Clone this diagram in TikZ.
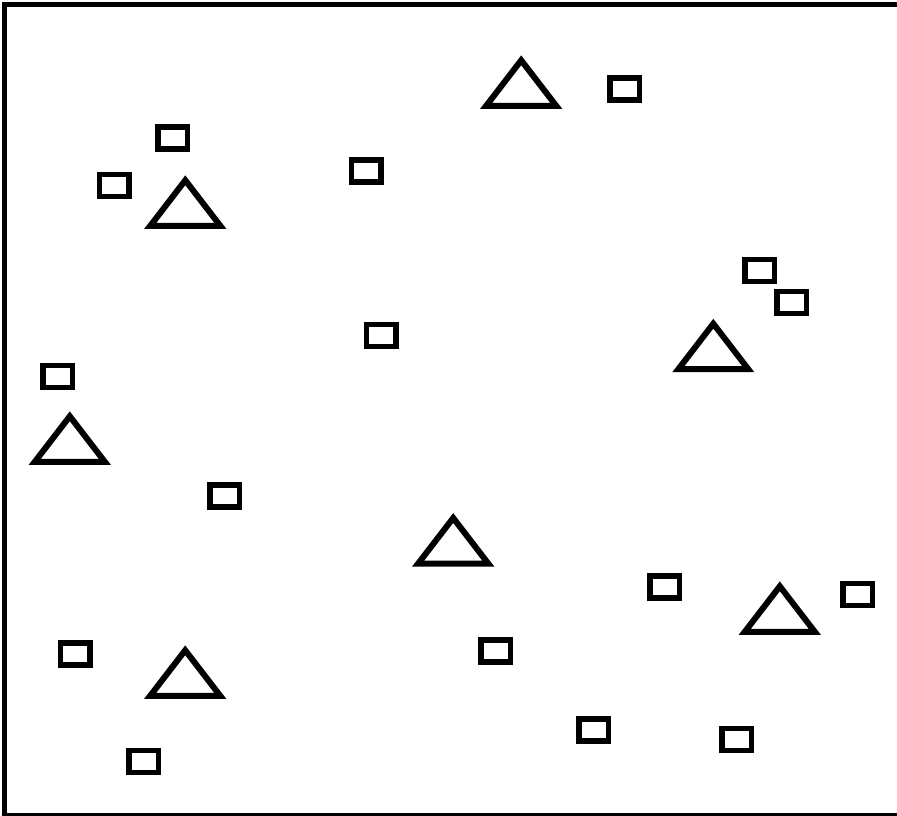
\documentclass[tikz,border=0pt]{standalone}
\usepackage{tikz}
\tikzset{
  markbox/.style={draw, line width=5.5pt, minimum width=29.5pt, minimum height=22pt, inner sep=0pt},
  marktri/.style={draw, line width=6pt, line join=miter},
  frameline/.style={draw, line width=5pt}
}

\begin{document}
\begin{tikzpicture}[x=1pt, y=-1pt]
        \clip (0,0) rectangle (897,816);
        \draw[frameline] (4.5,4.5) rectangle (905,815);
        % triangles, given by base centre
        \foreach \x/\y [count=\i] in {521.2/105.8, 185.3/225.8, 713.3/369.2, 69.8/461.8,
                                      453.2/563.5, 779.8/631.8, 185.2/695.8}
          \draw[marktri] (\x-35,\y) coordinate (tri\i) -- (\x,\y-45.5) -- (\x+35,\y) -- cycle;
        % small boxes
        \foreach \x/\y [count=\i] in {624.5/89, 172.5/137.8, 114.2/185.5, 366/171,
                                      759.5/270.5, 791.7/302.7, 381/335.5, 57.5/376.7,
                                      224.8/496.2, 664.8/587, 857.8/594.7, 75.3/654.2,
                                      495.8/651, 593.5/730, 736.8/739.7, 143.5/761.5}
          \node[markbox] (box\i) at (\x,\y) {};
      \end{tikzpicture}
\end{document}
